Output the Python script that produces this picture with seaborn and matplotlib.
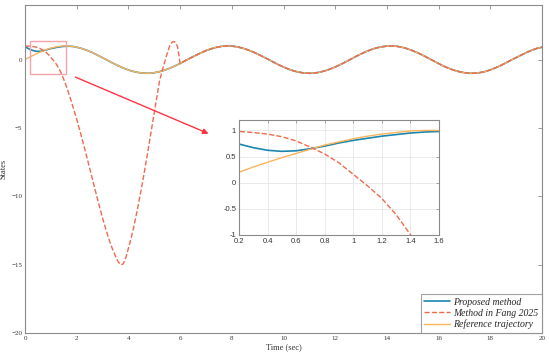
import numpy as np
import pandas as pd
import matplotlib
matplotlib.use('Agg')
import matplotlib.pyplot as plt
import seaborn as sns
from matplotlib.patches import Rectangle

# time grid (fine at the start, coarser later)
t_ref = [0.0, 0.1, 0.2, 0.3, 0.4, 0.5, 0.6, 0.7, 0.8, 0.9, 1.0, 1.1, 1.2, 1.3, 1.4, 1.5, 1.6, 1.7, 1.8, 1.9, 2.0,
         2.2, 2.4, 2.6, 2.8, 3.0, 3.2, 3.4, 3.6, 3.8, 4.0, 4.2, 4.4, 4.6, 4.8, 5.0, 5.2, 5.4, 5.6, 5.8, 6.0,
         6.2, 6.4, 6.6, 6.8, 7.0, 7.2, 7.4, 7.6, 7.8, 8.0, 8.2, 8.4, 8.6, 8.8, 9.0, 9.2, 9.4, 9.6, 9.8, 10.0,
         10.2, 10.4, 10.6, 10.8, 11.0, 11.2, 11.4, 11.6, 11.8, 12.0, 12.2, 12.4, 12.6, 12.8, 13.0, 13.2, 13.4,
         13.6, 13.8, 14.0, 14.2, 14.4, 14.6, 14.8, 15.0, 15.2, 15.4, 15.6, 15.8, 16.0, 16.2, 16.4, 16.6, 16.8,
         17.0, 17.2, 17.4, 17.6, 17.8, 18.0, 18.2, 18.4, 18.6, 18.8, 19.0, 19.2, 19.4, 19.6, 19.8, 20.0]

# reference trajectory
ref = [0.00, 0.10, 0.20, 0.30, 0.39, 0.48, 0.56, 0.64, 0.72, 0.78, 0.84, 0.89, 0.93, 0.96, 0.99, 1.00, 1.00, 0.99, 0.97, 0.95, 0.91,
       0.81, 0.68, 0.52, 0.33, 0.14, -0.06, -0.26, -0.44, -0.61, -0.76, -0.87, -0.95, -0.99, -1.00, -0.96, -0.88, -0.77, -0.63, -0.46, -0.28,
       -0.08, 0.12, 0.31, 0.49, 0.66, 0.79, 0.90, 0.97, 1.00, 0.99, 0.94, 0.85, 0.73, 0.58, 0.41, 0.22, 0.03, -0.17, -0.37, -0.54,
       -0.70, -0.83, -0.92, -0.98, -1.00, -0.98, -0.92, -0.82, -0.69, -0.54, -0.36, -0.17, 0.03, 0.23, 0.42, 0.59, 0.74,
       0.86, 0.94, 0.99, 1.00, 0.97, 0.90, 0.79, 0.65, 0.49, 0.31, 0.11, -0.09, -0.29, -0.48, -0.64, -0.78, -0.88,
       -0.96, -1.00, -0.99, -0.95, -0.87, -0.75, -0.60, -0.43, -0.24, -0.04, 0.15, 0.34, 0.52, 0.69, 0.82, 0.91]

# proposed method, first 2 s (afterwards it sits on the reference)
t_prop = [0.0, 0.1, 0.2, 0.3, 0.4, 0.5, 0.6, 0.7, 0.8, 0.9, 1.0, 1.1, 1.2, 1.3, 1.4, 1.5, 1.6, 1.7, 1.8, 1.9, 2.0]
prop = [0.95, 0.84, 0.74, 0.67, 0.62, 0.60, 0.61, 0.65, 0.70, 0.76, 0.81, 0.85, 0.89, 0.92, 0.95, 0.97, 0.98, 0.98, 0.97, 0.95, 0.91]

# method in Fang 2025, first 6 s (afterwards it sits on the reference)
t_fang = [0.0, 0.1, 0.2, 0.3, 0.4, 0.5, 0.6, 0.7, 0.8, 0.9, 1.0, 1.1, 1.2, 1.3, 1.4, 1.5, 1.6, 1.7, 1.8, 1.9,
          2.0, 2.1, 2.2, 2.3, 2.4, 2.5, 2.6, 2.7, 2.8, 2.9, 3.0, 3.1, 3.2, 3.3, 3.4, 3.5, 3.6, 3.7, 3.8, 3.9,
          4.0, 4.1, 4.2, 4.3, 4.4, 4.5, 4.6, 4.7, 4.8, 4.9, 5.0, 5.1, 5.2, 5.3, 5.4, 5.5, 5.6, 5.7, 5.8, 5.9, 6.0]
fang = [1.00, 0.99, 0.98, 0.96, 0.93, 0.88, 0.80, 0.68, 0.55, 0.38, 0.16, -0.06, -0.30, -0.61, -0.99, -1.45, -1.96, -2.52, -3.11, -3.73,
        -4.37, -5.05, -5.75, -6.47, -7.20, -7.95, -8.70, -9.45, -10.18, -10.90, -11.60, -12.25, -12.87, -13.44, -13.95, -14.40, -14.78, -15.02, -14.95, -14.50,
        -13.80, -13.10, -12.30, -11.40, -10.45, -9.45, -8.40, -7.30, -6.15, -5.00, -3.85, -2.70, -1.60, -0.85, -0.20, 0.45, 1.02, 1.30, 1.30, 0.95, -0.28]

labels = ['Proposed method', 'Method in Fang 2025', 'Reference trajectory']
colors = ['#1a86ad', '#ee6a4d', '#fbb45c']

# full series: early transient + reference tail
t_p_full = t_prop + [x for x in t_ref if x > t_prop[-1]]
p_full = prop + [y for x, y in zip(t_ref, ref) if x > t_prop[-1]]
t_f_full = t_fang + [x for x in t_ref if x > t_fang[-1]]
f_full = fang + [y for x, y in zip(t_ref, ref) if x > t_fang[-1]]

sns.set_theme(style='white')
plt.rcParams['font.family'] = ['Liberation Serif', 'DejaVu Serif']

fig = plt.figure(figsize=(5.5, 3.56), dpi=100)
ax = fig.add_axes([0.0455, 0.065, 0.94, 0.921])

sns.lineplot(x=t_p_full, y=p_full, ax=ax, color=colors[0], lw=1.2, label=labels[0])
sns.lineplot(x=t_ref, y=ref, ax=ax, color=colors[2], lw=1.0, label=labels[2])
sns.lineplot(x=t_f_full, y=f_full, ax=ax, color=colors[1], lw=1.0, ls='--', label=labels[1])

ax.set_xlim(0, 20)
ax.set_ylim(-20, 4)
ax.set_xticks(np.arange(0, 21, 2))
ax.set_yticks([-20, -15, -10, -5, 0])
ax.set_xlabel('Time (sec)', fontsize=6, color='#333333', labelpad=2)
ax.set_ylabel('States', fontsize=6, color='#333333')
ax.yaxis.set_label_coords(-0.034, 0.5)
ax.tick_params(direction='in', top=True, right=True, length=3, width=0.6, color='#888888',
               labelsize=5, labelcolor='#333333', pad=2)
for s in ax.spines.values():
    s.set_color('#8a8a8a')
    s.set_linewidth(0.8)

# zoom box and arrow
ax.add_patch(Rectangle((0.2, -1.05), 1.4, 2.45, fill=False, edgecolor='#f4a3aa', lw=1.0, zorder=5))
ax.annotate('', xy=(7.2, -5.5), xytext=(1.85, -1.2),
            arrowprops=dict(arrowstyle='-|>', color='#ff3344', lw=1.0, mutation_scale=8))

handles, _ = ax.get_legend_handles_labels()
order = [0, 2, 1]
leg = ax.legend([handles[i] for i in order], labels, loc='lower right', frameon=True, fancybox=False,
                borderaxespad=0.0, handlelength=2.6, handletextpad=0.4, labelspacing=0.2,
                borderpad=0.35, prop={'family': 'Liberation Serif', 'style': 'italic', 'size': 7})
leg.get_frame().set_edgecolor('#8a8a8a')
leg.get_frame().set_linewidth(0.8)

# inset
ins = fig.add_axes([0.4345, 0.34, 0.3635, 0.323])
sns.lineplot(x=t_p_full, y=p_full, ax=ins, color=colors[0], lw=1.2, legend=False)
sns.lineplot(x=t_ref, y=ref, ax=ins, color=colors[2], lw=1.0, legend=False)
sns.lineplot(x=t_f_full, y=f_full, ax=ins, color=colors[1], lw=1.0, ls='--', legend=False)
ins.set_xlim(0.2, 1.6)
ins.set_ylim(-1, 1.2)
ins.set_xticks([0.2, 0.4, 0.6, 0.8, 1.0, 1.2, 1.4, 1.6])
ins.set_xticklabels(['0.2', '0.4', '0.6', '0.8', '1', '1.2', '1.4', '1.6'])
ins.set_yticks([-1, -0.5, 0, 0.5, 1])
ins.set_yticklabels(['-1', '-0.5', '0', '0.5', '1'])
ins.grid(True, color='#e6e6e6', lw=0.6)
ins.tick_params(direction='in', top=True, right=True, length=2.5, width=0.5, color='#888888',
                labelsize=5.5, labelcolor='#333333', pad=2)
for lab in ins.get_xticklabels() + ins.get_yticklabels():
    lab.set_family('Liberation Sans')
for s in ins.spines.values():
    s.set_color('#8a8a8a')
    s.set_linewidth(0.8)

fig.savefig('out.png', dpi=100)
